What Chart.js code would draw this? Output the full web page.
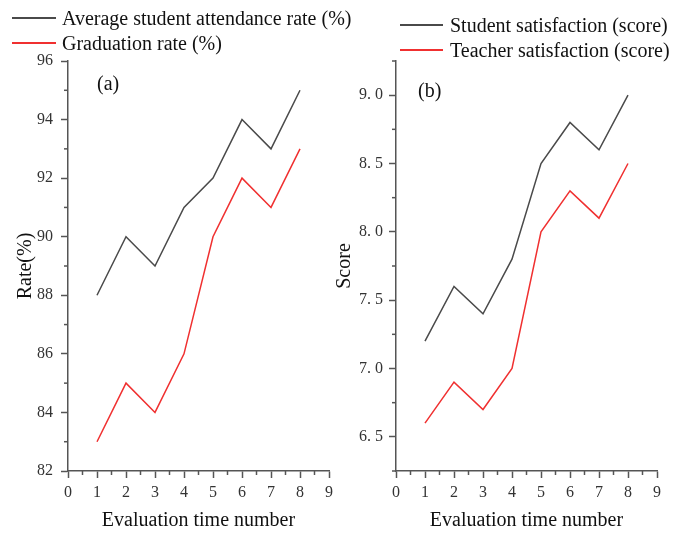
<!DOCTYPE html>
<html>
<head>
<meta charset="utf-8">
<script src="https://cdn.jsdelivr.net/npm/chart.js@4"></script>
<style>
  body { margin: 0; background: #fff; }
  #wrap { position: relative; width: 676px; height: 534px; overflow: hidden; font-family: "Liberation Serif", "Times New Roman", serif; color: #111; }
  canvas { position: absolute; top: 0; }
  .lab { position: absolute; font-size: 20px; line-height: 20px; white-space: nowrap; }
  .key { position: absolute; height: 2px; }
</style>
</head>
<body>
<div id="wrap">
  <canvas id="chartA" width="338" height="534" style="left:0;width:338px;height:534px"></canvas>
  <canvas id="chartB" width="346" height="534" style="left:330px;width:346px;height:534px"></canvas>

  <div class="key" style="left:12px;top:17px;width:44px;background:#4a4a4a"></div>
  <div class="lab" style="left:62px;top:8px">Average student attendance rate (%)</div>
  <div class="key" style="left:12px;top:42px;width:44px;background:#f03030"></div>
  <div class="lab" style="left:62px;top:33px">Graduation rate (%)</div>

  <div class="key" style="left:400px;top:24px;width:43px;background:#4a4a4a"></div>
  <div class="lab" style="left:450px;top:15px">Student satisfaction (score)</div>
  <div class="key" style="left:400px;top:49px;width:43px;background:#f03030"></div>
  <div class="lab" style="left:450px;top:40px">Teacher satisfaction (score)</div>

  <div class="lab" style="left:97px;top:73px">(a)</div>
  <div class="lab" style="left:418px;top:80px">(b)</div>
</div>

<script>
// evaluation number 1..8
const evalNo = [1, 2, 3, 4, 5, 6, 7, 8];

// panel (a)
const attendance = [88, 90, 89, 91, 92, 94, 93, 95];
const graduation = [83, 85, 84, 86, 90, 92, 91, 93];

// panel (b)
const studentSat = [7.2, 7.6, 7.4, 7.8, 8.5, 8.8, 8.6, 9.0];
const teacherSat = [6.6, 6.9, 6.7, 7.0, 8.0, 8.3, 8.1, 8.5];

const xTicks = [0, 1, 2, 3, 4, 5, 6, 7, 8, 9];
const yTicksA = [82, 84, 86, 88, 90, 92, 94, 96];
const yTicksB = [6.5, 7.0, 7.5, 8.0, 8.5, 9.0];

const AXIS = '#555';
const BLACK = '#4a4a4a';
const RED = '#f03030';
const serif = '"Liberation Serif", "Times New Roman", serif';

// short minor ticks halfway between the major ones
const minorTicks = {
  id: 'minorTicks',
  afterDraw(chart) {
    const ctx = chart.ctx;
    ctx.save();
    ctx.strokeStyle = AXIS;
    ctx.lineWidth = 1.5;
    for (const id of ['x', 'y']) {
      const s = chart.scales[id];
      const vals = s.ticks.map(t => t.value);
      const step = vals[1] - vals[0];
      for (let v = vals[0] - step / 2; v <= s.max + 1e-9; v += step) {
        if (v < s.min - 1e-9) continue;
        const p = s.getPixelForValue(v);
        ctx.beginPath();
        if (id === 'x') {
          ctx.moveTo(p, s.top);
          ctx.lineTo(p, s.top + 4);
        } else {
          ctx.moveTo(s.right, p);
          ctx.lineTo(s.right - 4, p);
        }
        ctx.stroke();
      }
    }
    ctx.restore();
  }
};

function pts(ys) {
  return ys.map((y, i) => ({ x: evalNo[i], y: y }));
}

function makeChart(el, cfg) {
  return new Chart(document.getElementById(el), {
    type: 'line',
    data: {
      datasets: cfg.series.map(s => ({
        data: pts(s.data),
        borderColor: s.color,
        borderWidth: 1.5,
        pointRadius: 0,
        tension: 0
      }))
    },
    options: {
      responsive: false,
      animation: false,
      layout: { padding: { top: 61, right: cfg.padRight, left: 0, bottom: 0 } },
      plugins: { legend: { display: false }, tooltip: { enabled: false } },
      scales: {
        x: {
          type: 'linear',
          min: 0,
          max: 9,
          afterBuildTicks: s => { s.ticks = xTicks.map(v => ({ value: v })); },
          afterFit: s => { s.height = 63; },
          border: { display: true, color: AXIS, width: 1.5 },
          grid: { drawOnChartArea: false, drawTicks: true, tickLength: 7, tickColor: AXIS, tickWidth: 1.5 },
          ticks: { color: '#333', padding: 5, maxRotation: 0, autoSkip: false, font: { family: serif, size: 16 } },
          title: {
            display: true, text: 'Evaluation time number', color: '#111',
            font: { family: serif, size: 20 }, padding: { top: 0, bottom: 1 }
          }
        },
        y: {
          type: 'linear',
          min: cfg.yMin,
          max: cfg.yMax,
          afterBuildTicks: s => { s.ticks = cfg.yTicks.map(v => ({ value: v })); },
          afterFit: s => { s.width = cfg.yWidth; },
          border: { display: true, color: AXIS, width: 1.5 },
          grid: { drawOnChartArea: false, drawTicks: true, tickLength: 7, tickColor: AXIS, tickWidth: 1.5 },
          ticks: { color: '#333', padding: cfg.tickPad, callback: cfg.fmt, font: { family: serif, size: 16 } },
          title: {
            display: true, text: cfg.yTitle, color: '#111',
            font: { family: serif, size: 20 }, padding: { top: cfg.titlePad, bottom: 0 }
          }
        }
      }
    },
    plugins: [minorTicks]
  });
}

makeChart('chartA', {
  series: [{ data: attendance, color: BLACK }, { data: graduation, color: RED }],
  yMin: 82, yMax: 96, yTicks: yTicksA,
  yWidth: 68, padRight: 9, tickPad: 8, titlePad: 14,
  yTitle: 'Rate(%)',
  fmt: v => String(v)
});

makeChart('chartB', {
  series: [{ data: studentSat, color: BLACK }, { data: teacherSat, color: RED }],
  yMin: 6.25, yMax: 9.25, yTicks: yTicksB,
  yWidth: 66, padRight: 19, tickPad: 6, titlePad: 3,
  yTitle: 'Score',
  fmt: v => v.toFixed(1).replace('.', '. ')
});
</script>
</body>
</html>
